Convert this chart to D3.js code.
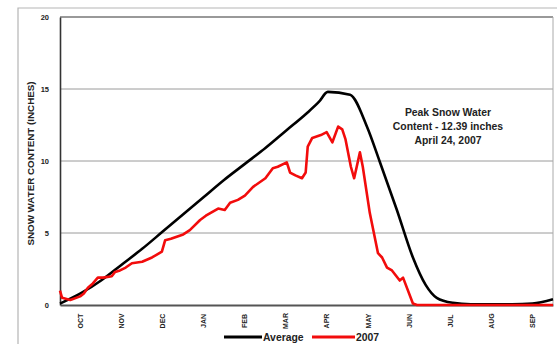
<!DOCTYPE html>
<html>
<head>
<meta charset="utf-8">
<script src="https://cdn.jsdelivr.net/npm/d3@7"></script>
<style>
  html, body { margin: 0; padding: 0; background: #fff; }
  svg { display: block; }
  text { font-family: "Liberation Sans", Arial, sans-serif; font-weight: bold; fill: #222; }
</style>
</head>
<body>
<svg id="chart" width="557" height="344"></svg>
<script>
// Water-year months, October through September
const months = ["OCT", "NOV", "DEC", "JAN", "FEB", "MAR", "APR", "MAY", "JUN", "JUL", "AUG", "SEP"];
const yTicks = [0, 5, 10, 15, 20];

// Average snow water content (inches), x in months since Oct 1
const avgMonth = [0, 0.5, 1, 1.5, 2, 2.5, 3, 3.5, 4, 4.5, 5, 5.5, 6, 6.3, 6.52, 7.06, 7.47, 7.79, 8.2, 8.59, 8.9, 9.17, 9.56, 10, 11, 11.5, 12];
const avgValue = [0.1, 0.8, 1.7, 2.8, 3.9, 5.1, 6.3, 7.5, 8.7, 9.8, 10.9, 12.1, 13.3, 14.1, 14.8, 14.6, 12.4, 9.9, 6.6, 3.3, 1.4, 0.5, 0.15, 0.05, 0.05, 0.1, 0.4];

// 2007 snow water content (inches)
const wy2007Month = [0, 0.05, 0.25, 0.49, 0.58, 0.68, 0.8, 0.92, 1.05, 1.26, 1.34, 1.46, 1.6, 1.75, 2.0, 2.24, 2.48, 2.56, 2.7, 3.0, 3.16, 3.41, 3.55, 3.85, 4.01, 4.14, 4.33, 4.5, 4.7, 5.0, 5.18, 5.3, 5.52, 5.6, 5.73, 5.89, 5.98, 6.03, 6.14, 6.35, 6.49, 6.63, 6.77, 6.87, 6.95, 7.08, 7.16, 7.3, 7.37, 7.54, 7.74, 7.84, 7.96, 8.08, 8.27, 8.35, 8.59, 8.69, 12];
const wy2007Value = [1.0, 0.5, 0.35, 0.6, 0.8, 1.2, 1.5, 1.9, 1.9, 2.0, 2.3, 2.4, 2.6, 2.9, 3.0, 3.3, 3.7, 4.5, 4.6, 4.9, 5.2, 5.9, 6.2, 6.7, 6.6, 7.1, 7.3, 7.6, 8.2, 8.8, 9.5, 9.6, 9.9, 9.2, 9.0, 8.8, 9.2, 11.0, 11.6, 11.8, 12.0, 11.3, 12.39, 12.2, 11.5, 9.6, 8.8, 10.6, 9.6, 6.4, 3.6, 3.3, 2.6, 2.4, 1.7, 1.9, 0.1, 0, 0];

const annotation = ["Peak Snow Water", "Content - 12.39 inches", "April 24, 2007"];
const legendLabels = ["Average", "2007"];

const svg = d3.select("#chart");
const plotLeft = 60, plotRight = 553, plotTop = 17, plotBottom = 305;

const x = d3.scaleLinear().domain([0, 12]).range([plotLeft, plotRight]);
const y = d3.scaleLinear().domain([0, 20]).range([plotBottom, plotTop]);

// outer frame of the figure
svg.append("path")
  .attr("d", `M18,350 L18,8 L560,8`)
  .attr("fill", "none").attr("stroke", "#b5b5b5").attr("stroke-width", 1.2);

// horizontal grid
svg.append("g").selectAll("line").data([5, 10, 15, 20]).join("line")
  .attr("x1", plotLeft).attr("x2", plotRight)
  .attr("y1", d => y(d)).attr("y2", d => y(d))
  .attr("stroke", d => d === 20 ? "#777" : "#9a9a9a")
  .attr("stroke-width", d => d === 20 ? 1.5 : 1);

// right edge of the plot
svg.append("line").attr("x1", plotRight).attr("x2", plotRight).attr("y1", plotTop).attr("y2", plotBottom)
  .attr("stroke", "#aaa").attr("stroke-width", 1);

// y axis
const yAxis = svg.append("g").attr("transform", `translate(${plotLeft},0)`)
  .call(d3.axisLeft(y).tickValues(yTicks).tickSize(0).tickPadding(11));
yAxis.select(".domain").attr("stroke", "#333").attr("stroke-width", 1.6);
yAxis.selectAll("text").style("font-size", "7.5px").attr("fill", "#222");

// x axis with month labels centred in each month band
const xBand = d3.scaleBand().domain(months).range([plotLeft, plotRight]);
const xAxis = svg.append("g").attr("transform", `translate(0,${plotBottom})`)
  .call(d3.axisBottom(xBand).tickSize(0).tickPadding(0));
xAxis.select(".domain").attr("stroke", "#555").attr("stroke-width", 2);
xAxis.selectAll(".tick text")
  .style("font-size", "7px")
  .attr("fill", "#222")
  .attr("text-anchor", "middle")
  .attr("dy", "0.35em")
  .attr("transform", "translate(0,16) rotate(-90)")
  .attr("x", 0).attr("y", 0);

// y axis title
svg.append("text")
  .attr("transform", `translate(34,${(75 + 252) / 2}) rotate(-90)`)
  .attr("text-anchor", "middle")
  .style("font-size", "9.8px")
  .text("SNOW WATER CONTENT (INCHES)");

const lineAvg = d3.line().x(d => x(d[0])).y(d => y(d[1])).curve(d3.curveMonotoneX);
const line07 = d3.line().x(d => x(d[0])).y(d => y(d[1]));

svg.append("path")
  .datum(avgMonth.map((m, i) => [m, avgValue[i]]))
  .attr("d", lineAvg)
  .attr("fill", "none").attr("stroke", "#000").attr("stroke-width", 2.6)
  .attr("stroke-linejoin", "round");

svg.append("path")
  .datum(wy2007Month.map((m, i) => [m, wy2007Value[i]]))
  .attr("d", line07)
  .attr("fill", "none").attr("stroke", "#f20c0c").attr("stroke-width", 2.6)
  .attr("stroke-linejoin", "round");

// peak annotation
svg.append("g").selectAll("text").data(annotation).join("text")
  .attr("x", 448).attr("y", (d, i) => 116 + i * 14)
  .attr("text-anchor", "middle")
  .style("font-size", "10.4px")
  .attr("fill", "#222")
  .text(d => d);

// legend
const legend = svg.append("g");
legend.append("line").attr("x1", 224).attr("x2", 262).attr("y1", 337).attr("y2", 337)
  .attr("stroke", "#000").attr("stroke-width", 3);
legend.append("text").attr("x", 263).attr("y", 341).style("font-size", "10.4px").text(legendLabels[0]);
legend.append("line").attr("x1", 312).attr("x2", 355).attr("y1", 337).attr("y2", 337)
  .attr("stroke", "#f20c0c").attr("stroke-width", 3);
legend.append("text").attr("x", 356).attr("y", 341).style("font-size", "10.4px").text(legendLabels[1]);
</script>
</body>
</html>
